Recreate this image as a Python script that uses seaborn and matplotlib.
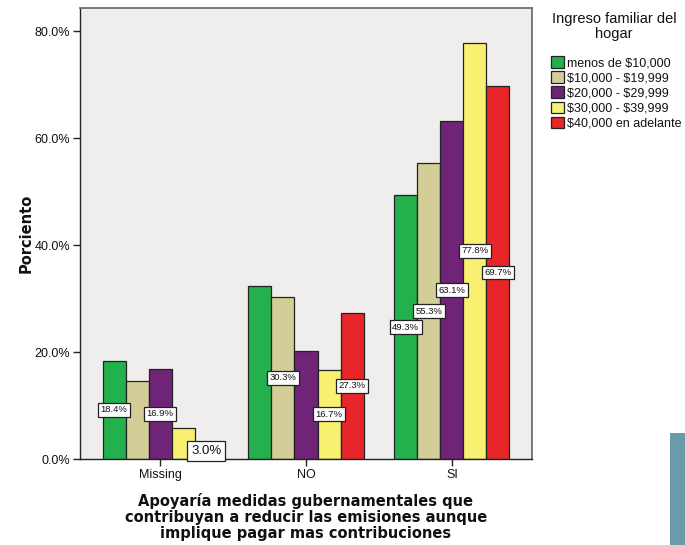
import matplotlib
matplotlib.use("Agg")
import matplotlib.pyplot as plt
from matplotlib.patches import Patch, Rectangle
import seaborn as sns
import pandas as pd

# Survey answers (x categories) and household income groups (hue)
categories = ["Missing", "NO", "SI"]
income_groups = ["menos de $10,000", "$10,000 - $19,999", "$20,000 - $29,999",
                 "$30,000 - $39,999", "$40,000 en adelante"]

# Percent of each income group answering each category
menos_10k = [18.4, 32.4, 49.3]
de_10k_19k = [14.5, 30.3, 55.3]
de_20k_29k = [16.9, 20.2, 63.1]
de_30k_39k = [5.8, 16.7, 77.8]
desde_40k = [3.0, 27.3, 69.7]

# Which bars carry a value label (True = labelled)
labelled = [
    [True, False, True],
    [False, True, True],
    [True, False, True],
    [False, True, True],
    [True, True, True],
]

colors = ["#22B14C", "#D3CD97", "#702478", "#F7F071", "#E8262A"]

series = [menos_10k, de_10k_19k, de_20k_29k, de_30k_39k, desde_40k]
rows = []
for grp, vals in zip(income_groups, series):
    for cat, v in zip(categories, vals):
        rows.append({"respuesta": cat, "ingreso": grp, "pct": v})
df = pd.DataFrame(rows)

sns.set_style("white")
plt.rcParams["font.family"] = ["Liberation Sans", "DejaVu Sans"]

fig = plt.figure(figsize=(6.85, 5.45), dpi=100)
ax = fig.add_axes([80 / 685, 1 - 459 / 545, (532 - 80) / 685, (459 - 8) / 545])
ax.set_facecolor("#EFEEED")

sns.barplot(data=df, x="respuesta", y="pct", hue="ingreso", order=categories,
            hue_order=income_groups, palette=colors, width=0.79, saturation=1,
            edgecolor="#222222", linewidth=0.9, legend=False, ax=ax)

ax.set_xlim(-0.55, 2.55)
ax.set_ylim(0, 84.3)
ax.set_yticks([0, 20, 40, 60, 80])
ax.set_yticklabels([f"{t:.1f}%" for t in [0, 20, 40, 60, 80]])
ax.tick_params(axis="both", labelsize=9, length=5, width=1, color="#222222",
               labelcolor="#111111", direction="out", left=True, bottom=True, pad=2)

for side in ["left", "bottom"]:
    ax.spines[side].set_color("#222222")
    ax.spines[side].set_linewidth(1)
for side in ["top", "right"]:
    ax.spines[side].set_color("#6E6E6E")
    ax.spines[side].set_linewidth(1.3)

# Value labels at mid-height of bars
for container, vals, flags in zip(ax.containers, series, labelled):
    for bar, v, show in zip(container, vals, flags):
        if not show:
            continue
        x = bar.get_x() + bar.get_width() / 2
        y = bar.get_height() / 2
        big = v < 5
        ax.text(x, y, f"{v:.1f}%", ha="center", va="center",
                fontsize=9.5 if big else 6.8, color="#111111",
                bbox=dict(boxstyle="square,pad=0.3" if big else "square,pad=0.25",
                          facecolor="white", edgecolor="#222222", linewidth=0.9),
                zorder=5)

ax.set_ylabel("Porciento", fontsize=10.5, fontweight="bold",
              family="DejaVu Sans", color="#111111", labelpad=1)
ax.set_xlabel("Apoyaría medidas gubernamentales que\n"
              "contribuyan a reducir las emisiones aunque\n"
              "implique pagar mas contribuciones",
              fontsize=10.5, fontweight="bold", family="DejaVu Sans",
              color="#111111", linespacing=1.1, labelpad=8.5)

# Legend title drawn on its own, entries below it
fig.text(614 / 685, 1 - 12 / 545, "Ingreso familiar del\nhogar", ha="center",
         va="top", fontsize=10.5, color="#111111", multialignment="center",
         linespacing=1.05)
handles = [Patch(facecolor=c, edgecolor="#222222", linewidth=0.9) for c in colors]
legend_labels = [g.replace("$", r"\$") for g in income_groups]
leg = fig.legend(handles, legend_labels, loc="upper left",
                 bbox_to_anchor=(551 / 685, 1 - 56 / 545),
                 frameon=False, fontsize=9.0,
                 handlelength=1.05, handleheight=1.05, handletextpad=0.22,
                 labelspacing=0.17, borderaxespad=0, borderpad=0)
for t in leg.get_texts():
    t.set_color("#111111")

fig.patches.append(Rectangle((670 / 685, 0), 15 / 685, 112 / 545,
                             transform=fig.transFigure, facecolor="#6A9BAA",
                             edgecolor="none"))

fig.savefig("out.png", dpi=100)
